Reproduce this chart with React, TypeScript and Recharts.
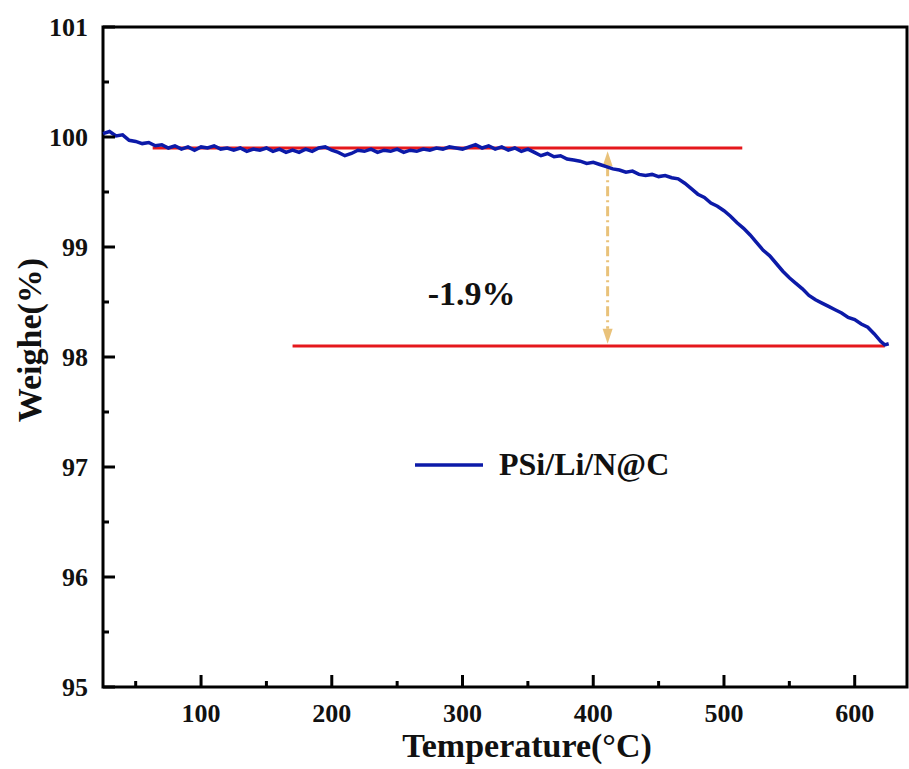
import React from "react";
import {
  Label,
  Legend,
  Line,
  LineChart,
  ReferenceArea,
  ReferenceDot,
  ReferenceLine,
  XAxis,
  YAxis,
} from "recharts";

// TGA readings
const temps = [
  25, 30, 35, 40, 45, 50, 55, 60, 65, 70, 75, 80, 85, 90, 95, 100, 105, 110,
  115, 120, 125, 130, 135, 140, 145, 150, 155, 160, 165, 170, 175, 180, 185,
  190, 195, 200, 205, 210, 215, 220, 225, 230, 235, 240, 245, 250, 255, 260,
  265, 270, 275, 280, 285, 290, 295, 300, 305, 310, 315, 320, 325, 330, 335,
  340, 345, 350, 355, 360, 365, 370, 375, 380, 385, 390, 395, 400, 405, 410,
  415, 420, 425, 430, 435, 440, 445, 450, 455, 460, 465, 470, 475, 480, 485,
  490, 495, 500, 505, 510, 515, 520, 525, 530, 535, 540, 545, 550, 555, 560,
  565, 570, 575, 580, 585, 590, 595, 600, 605, 610, 615, 620, 623, 626,
];

const weights = [
  100.03, 100.05, 100.01, 100.02, 99.97, 99.96, 99.94, 99.95, 99.92, 99.93,
  99.9, 99.92, 99.89, 99.91, 99.88, 99.91, 99.9, 99.92, 99.89, 99.9, 99.88,
  99.9, 99.87, 99.89, 99.88, 99.9, 99.87, 99.89, 99.86, 99.88, 99.86, 99.89,
  99.87, 99.9, 99.91, 99.88, 99.86, 99.83, 99.85, 99.88, 99.87, 99.89, 99.86,
  99.88, 99.87, 99.89, 99.86, 99.88, 99.87, 99.89, 99.88, 99.9, 99.89, 99.91,
  99.9, 99.89, 99.91, 99.93, 99.9, 99.92, 99.89, 99.91, 99.88, 99.9, 99.87,
  99.89, 99.86, 99.83, 99.85, 99.82, 99.83, 99.8, 99.79, 99.78, 99.76, 99.77,
  99.75, 99.73, 99.71, 99.7, 99.68, 99.69, 99.66, 99.65, 99.66, 99.64, 99.65,
  99.63, 99.62, 99.58, 99.53, 99.48, 99.45, 99.4, 99.37, 99.33, 99.28, 99.22,
  99.17, 99.11, 99.04, 98.97, 98.92, 98.85, 98.78, 98.72, 98.67, 98.62, 98.56,
  98.52, 98.49, 98.46, 98.43, 98.4, 98.36, 98.34, 98.3, 98.27, 98.21, 98.14,
  98.11, 98.12,
];

const xTicks = [50, 100, 150, 200, 250, 300, 350, 400, 450, 500, 550, 600];
const yTicks = [95, 95.5, 96, 96.5, 97, 97.5, 98, 98.5, 99, 99.5, 100, 100.5, 101];

// baselines and the arrow marking the loss
const topBaseline = [
  { x: 63, y: 99.9 },
  { x: 514, y: 99.9 },
];
const bottomBaseline = [
  { x: 170, y: 98.1 },
  { x: 623, y: 98.1 },
];
const arrowSegment = [
  { x: 411, y: 99.87 },
  { x: 411, y: 98.12 },
];

const SERIF = '"Liberation Serif", "Times New Roman", serif';
const BLUE = "#0c1aa8";
const RED = "#e5181c";
const GOLD = "#e9c27a";

const data = temps.map((t, i) => ({ t, w: weights[i] }));

const XTick = (props: any) => {
  const { x, y, payload } = props;
  const major = payload.value % 100 === 0;
  return (
    <g>
      <line x1={x} x2={x} y1={y} y2={y - (major ? 12 : 6)} stroke="#000" strokeWidth={3} />
      {major && (
        <text
          x={x}
          y={y + 35}
          textAnchor="middle"
          fontFamily={SERIF}
          fontWeight="bold"
          fontSize={26}
          fill="#111"
        >
          {payload.value}
        </text>
      )}
    </g>
  );
};

const YTick = (props: any) => {
  const { x, y, payload } = props;
  const major = Number.isInteger(payload.value);
  return (
    <g>
      <line x1={x} x2={x + (major ? 12 : 6)} y1={y} y2={y} stroke="#000" strokeWidth={3} />
      {major && (
        <text
          x={x - 15}
          y={y + 9}
          textAnchor="end"
          fontFamily={SERIF}
          fontWeight="bold"
          fontSize={26}
          fill="#111"
        >
          {payload.value}
        </text>
      )}
    </g>
  );
};

const Arrow = (props: any) => {
  const { x1, y1, y2 } = props;
  const head = 15;
  return (
    <g>
      <line
        x1={x1}
        x2={x1}
        y1={y1 + head}
        y2={y2 - head}
        stroke={GOLD}
        strokeWidth={3}
        strokeDasharray="10 4 2 4"
      />
      <path
        d={`M${x1},${y1} L${x1 + 5},${y1 + head} L${x1 - 5},${y1 + head} Z`}
        fill={GOLD}
      />
      <path
        d={`M${x1},${y2} L${x1 + 5},${y2 - head} L${x1 - 5},${y2 - head} Z`}
        fill={GOLD}
      />
    </g>
  );
};

const renderLegend = (props: any) => {
  const item = props.payload?.[0];
  return (
    <div style={{ display: "flex", alignItems: "center" }}>
      <svg width={70} height={10}>
        <line x1={0} y1={5} x2={68} y2={5} stroke={BLUE} strokeWidth={3.5} />
      </svg>
      <span
        style={{
          marginLeft: 14,
          fontFamily: SERIF,
          fontWeight: "bold",
          fontSize: 32,
          color: "#111",
        }}
      >
        {item?.value}
      </span>
    </div>
  );
};

export default function App() {
  return (
    <div
      style={{
        position: "absolute",
        left: 0,
        top: 0,
        width: 909,
        height: 769,
        background: "#fff",
      }}
    >
      <LineChart
        width={909}
        height={769}
        data={data}
        margin={{ top: 27, right: 2, left: 33, bottom: 0 }}
      >
        <ReferenceArea
          x1={25}
          x2={640}
          y1={95}
          y2={101}
          fill="none"
          stroke="#000"
          strokeWidth={3}
        />
        <XAxis
          dataKey="t"
          type="number"
          domain={[25, 640]}
          ticks={xTicks}
          interval={0}
          height={82}
          axisLine={false}
          tickLine={false}
          tickSize={0}
          tickMargin={0}
          tick={<XTick />}
        >
          <Label
            content={() => (
              <text
                x={527}
                y={757}
                textAnchor="middle"
                fontFamily={SERIF}
                fontWeight="bold"
                fontSize={34}
                fill="#111"
              >
                Temperature(°C)
              </text>
            )}
          />
        </XAxis>
        <YAxis
          type="number"
          domain={[95, 101]}
          ticks={yTicks}
          interval={0}
          width={70}
          axisLine={false}
          tickLine={false}
          tickSize={0}
          tickMargin={0}
          tick={<YTick />}
        >
          <Label
            content={() => (
              <text
                x={41}
                y={340}
                transform="rotate(-90 41 340)"
                textAnchor="middle"
                fontFamily={SERIF}
                fontWeight="bold"
                fontSize={34}
                fill="#111"
              >
                Weighe(%)
              </text>
            )}
          />
        </YAxis>
        <ReferenceLine segment={topBaseline} stroke={RED} strokeWidth={3} />
        <ReferenceLine segment={bottomBaseline} stroke={RED} strokeWidth={3} />
        <ReferenceLine segment={arrowSegment} shape={<Arrow />} />
        <ReferenceDot x={307} y={98.58} r={0} fill="none" stroke="none">
          <Label
            value="-1.9%"
            position="center"
            fontFamily={SERIF}
            fontWeight="bold"
            fontSize={34}
            fill="#111"
          />
        </ReferenceDot>
        <Line
          type="linear"
          dataKey="w"
          name="PSi/Li/N@C"
          stroke={BLUE}
          strokeWidth={3.5}
          dot={false}
          activeDot={false}
          isAnimationActive={false}
        />
        <Legend
          layout="vertical"
          align="center"
          verticalAlign="middle"
          content={renderLegend}
          wrapperStyle={{ left: 415, top: 446, width: "auto" }}
        />
      </LineChart>
    </div>
  );
}
